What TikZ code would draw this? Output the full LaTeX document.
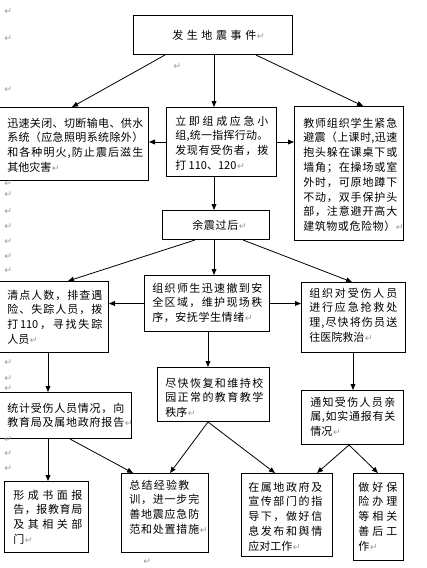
\documentclass[tikz,border=0pt]{standalone}
\usepackage{fontspec}
\newfontfamily\cjk{Noto Sans CJK SC}
\newfontfamily\djv{DejaVu Sans}
\usetikzlibrary{arrows.meta,calc}
\newdimen\pxu \pxu=0.75pt
\def\SLend{\relax}
\def\SLendm{\SLend}
\def\SL#1#2{\hbox to #1\pxu{\SLa#2\SLend}}
\def\SLa#1{#1\SLb}
\def\SLb#1{\def\SLtmp{#1}\ifx\SLtmp\SLendm\else\hfil#1\expandafter\SLb\fi}
\newcommand\mk{{\djv\fontsize{7}{7}\selectfont\color{black!40}\kern0.5pt ↵}}
\newcommand\bxx[5]{\node[bx,minimum width={(#4-(#2))*0.75pt},minimum height={(#5-(#3))*0.75pt}] (#1) at (#2,#3) {};}
\tikzset{
  bx/.style={draw, line width=0.75pt, inner sep=0pt, rectangle, anchor=north west},
  tx/.style={inner sep=0pt, anchor=base west, font=\cjk\fontsize{8.25}{11.1}\selectfont},
  mkn/.style={inner sep=0pt},
  arr/.style={-{Triangle[length=4.5pt,width=3.6pt]}, line width=0.6pt}
}
\begin{document}
\begin{tikzpicture}[x=0.75pt,y=-0.75pt]
\useasboundingbox (0,0) rectangle (426,568);
% boxes
\bxx{T}{133}{15}{292}{54}
\bxx{A}{-2}{107}{148}{180}
\bxx{B}{166}{107}{276}{176}
\bxx{C}{294}{106}{403}{240}
\bxx{D}{162}{210}{269}{239}
\bxx{E}{-2}{281}{108}{352}
\bxx{F}{144}{275}{269}{331}
\bxx{G}{301}{282}{405}{352}
\bxx{H}{-2}{392}{131}{438}
\bxx{I}{157}{367}{269}{421}
\bxx{J}{301}{390}{403}{444}
\bxx{K}{4}{481}{88}{552}
\bxx{L}{121}{473}{208}{552}
\bxx{M}{241}{473}{332}{556}
\bxx{N}{353}{473}{403}{560}
% texts
\node[tx] (Tt) at (172,39) {\vtop{\hbox{\SL{84}{发生地震事件}\mk}}};
\node[tx] (At) at (7,127) {\vtop{\SL{136}{迅速关闭、切断输电、供水}\SL{136}{系统（应急照明系统除外）}\SL{136}{和各种明火,防止震后滋生}\hbox{其他灾害\mk}}};
\node[tx] (Bt) at (175,125) {\vtop{\SL{93}{立即组成应急小}\SL{93}{组,统一指挥行动。}\SL{93}{发现有受伤者，拨}\hbox{打 110、120\mk}}};
\node[tx] (Ct) at (303,127) {\vtop{\SL{94}{教师组织学生紧急}\SL{94}{避震（上课时,迅速}\SL{94}{抱头躲在课桌下或}\SL{94}{墙角；在操场或室}\SL{94}{外时，可原地蹲下}\SL{94}{不动，双手保护头}\SL{94}{部，注意避开高大}\hbox{\SL{92}{建筑物或危险物）}\mk}}};
\node[tx] (Dt) at (192,229) {\vtop{\hbox{\SL{46}{余震过后}\mk}}};
\node[tx] (Et) at (7,299) {\vtop{\SL{95}{清点人数，排查遇}\SL{95}{险、失踪人员，拨}\SL{95}{打{110}，寻找失踪}\hbox{人员\mk}}};
\node[tx] (Ft) at (152,292) {\vtop{\SL{110}{组织师生迅速撤到安}\SL{110}{全区域，维护现场秩}\hbox{\SL{92}{序，安抚学生情绪}\mk}}};
\node[tx] (Gt) at (309,297) {\vtop{\SL{88}{组织对受伤人员}\SL{88}{进行应急抢救处}\SL{88}{理,尽快将伤员送}\hbox{往医院救治\mk}}};
\node[tx] (Ht) at (7,412) {\vtop{\SL{117}{统计受伤人员情况，向}\hbox{\SL{117}{教育局及属地政府报告}\mk}}};
\node[tx] (It) at (165,387) {\vtop{\SL{98}{尽快恢复和维持校}\SL{98}{园正常的教育教学}\hbox{秩序\mk}}};
\node[tx] (Jt) at (310,406) {\vtop{\SL{85}{通知受伤人员亲}\SL{85}{属,如实通报有关}\hbox{情况\mk}}};
\node[tx] (Kt) at (13,499) {\vtop{\SL{69}{形成书面报}\SL{69}{告，报教育局}\SL{69}{及其相关部}\hbox{门\mk}}};
\node[tx] (Lt) at (129,489) {\vtop{\SL{60}{总结经验教}\SL{70}{训，进一步完}\SL{70}{善地震应急防}\hbox{\SL{70}{范和处置措施}\mk}}};
\node[tx] (Mt) at (248,491) {\vtop{\SL{74}{在属地政府及}\SL{74}{宣传部门的指}\SL{74}{导下，做好信}\SL{74}{息发布和舆情}\hbox{应对工作\mk}}};
\node[tx] (Nt) at (358,491) {\vtop{\SL{39}{做好保}\SL{39}{险办理}\SL{39}{等相关}\SL{39}{善后工}\hbox{作\mk}}};
% paragraph marks
\foreach \mx/\my [count=\i] in {8/12,8/39,8/90,177/67,8/184,8/195,8/212,8/227,8/242,8/257,8/271,8/363,8/379,8/389,8/440,8/454,8/469,147/562}
  \node[mkn] (pm\i) at (\mx,\my) {\mk};
% connectors
\draw[arr] ($(T.south west)+(32,0)$) -- ($(A.north west)+(74,0)$);
\draw[arr] ($(T.south west)+(81,0)$) -- ($(B.north west)+(48,0)$);
\draw[arr] ($(T.south west)+(123,0)$) -- ($(C.north west)+(69,0)$);
\draw[arr] (B.west) -- (B.west -| A.east);
\draw[arr] (B.east) -- (B.east -| C.west);
\draw[arr] ($(B.south west)+(48,0)$) -- ($(D.north west)+(52,0)$);
\draw[arr] ($(D.south west)+(33,0)$) -- ($(E.north west)+(70,0)$);
\draw[arr] ($(D.south west)+(52,0)$) -- ($(F.north west)+(70,0)$);
\draw[arr] ($(D.south west)+(81,0)$) -- ($(G.north west)+(51,0)$);
\draw[arr] (F.west) -- (F.west -| E.east);
\draw[arr] (F.east) -- (F.east -| G.west);
\draw[arr] ($(E.south west)+(50,0)$) -- ($(H.north west)+(50,0)$);
\draw[arr] ($(F.south west)+(64,0)$) -- ($(I.north west)+(51,0)$);
\draw[arr] ($(G.south west)+(52,0)$) -- ($(J.north west)+(52,0)$);
\draw[arr] ($(H.south west)+(50,0)$) -- ($(K.north west)+(44,0)$);
\draw[arr] ($(H.south west)+(72,0)$) -- ($(L.north west)+(12,0)$);
\draw[arr] ($(I.south west)+(51,0)$) -- ($(L.north west)+(49,0)$);
\draw[arr] ($(I.south west)+(51,0)$) -- ($(M.north west)+(34,0)$);
\draw[arr] ($(J.south west)+(48,0)$) -- ($(M.north west)+(76,0)$);
\draw[arr] ($(J.south west)+(48,0)$) -- ($(N.north west)+(25,0)$);
\end{tikzpicture}
\end{document}
